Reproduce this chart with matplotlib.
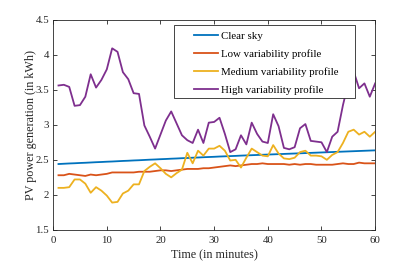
import matplotlib
matplotlib.use("Agg")
import matplotlib.pyplot as plt
from matplotlib.patches import Rectangle

minutes = list(range(1, 61))

clear_sky = [2.440, 2.444, 2.448, 2.451, 2.455, 2.458, 2.462, 2.466, 2.469, 2.473,
             2.476, 2.480, 2.484, 2.487, 2.491, 2.494, 2.498, 2.502, 2.505, 2.509,
             2.512, 2.516, 2.519, 2.523, 2.526, 2.530, 2.533, 2.537, 2.540, 2.543,
             2.547, 2.550, 2.553, 2.556, 2.560, 2.563, 2.566, 2.569, 2.572, 2.575,
             2.578, 2.581, 2.584, 2.587, 2.590, 2.593, 2.596, 2.599, 2.602, 2.605,
             2.608, 2.611, 2.614, 2.617, 2.620, 2.623, 2.626, 2.629, 2.632, 2.635]

low_var = [2.28, 2.28, 2.30, 2.29, 2.28, 2.27, 2.29, 2.28, 2.29, 2.30,
           2.32, 2.32, 2.32, 2.32, 2.32, 2.33, 2.33, 2.33, 2.34, 2.35,
           2.35, 2.34, 2.35, 2.36, 2.37, 2.37, 2.37, 2.38, 2.38, 2.39,
           2.40, 2.41, 2.42, 2.41, 2.42, 2.43, 2.44, 2.44, 2.45, 2.44,
           2.44, 2.44, 2.44, 2.43, 2.44, 2.43, 2.44, 2.44, 2.43, 2.43,
           2.43, 2.43, 2.44, 2.45, 2.44, 2.44, 2.46, 2.45, 2.45, 2.45]

medium_var = [2.10, 2.10, 2.11, 2.22, 2.22, 2.16, 2.03, 2.11, 2.06, 1.99,
              1.89, 1.90, 2.02, 2.06, 2.15, 2.15, 2.34, 2.40, 2.45, 2.38,
              2.30, 2.25, 2.31, 2.36, 2.60, 2.45, 2.63, 2.56, 2.66, 2.66,
              2.70, 2.63, 2.49, 2.50, 2.39, 2.53, 2.66, 2.61, 2.56, 2.55,
              2.71, 2.59, 2.52, 2.51, 2.53, 2.61, 2.63, 2.56, 2.56, 2.55,
              2.50, 2.57, 2.61, 2.74, 2.90, 2.93, 2.86, 2.90, 2.83, 2.90]

high_var = [3.56, 3.57, 3.54, 3.27, 3.28, 3.40, 3.72, 3.53, 3.64, 3.79,
            4.09, 4.04, 3.75, 3.65, 3.45, 3.44, 2.99, 2.83, 2.66, 2.86,
            3.06, 3.19, 3.02, 2.85, 2.78, 2.74, 2.93, 2.74, 3.03, 3.04,
            3.10, 2.87, 2.61, 2.65, 2.85, 2.72, 3.03, 2.87, 2.76, 2.74,
            3.15, 2.98, 2.67, 2.65, 2.68, 2.95, 3.01, 2.77, 2.76, 2.75,
            2.61, 2.83, 2.90, 3.28, 3.60, 3.76, 3.52, 3.59, 3.40, 3.59]

series_labels = ["Clear sky", "Low variability profile",
                 "Medium variability profile", "High variability profile"]
colors = ["#0072BD", "#D95319", "#EDB120", "#7E2F8E"]

x_ticks = [0, 10, 20, 30, 40, 50, 60]
y_ticks = [1.5, 2, 2.5, 3, 3.5, 4, 4.5]
y_tick_labels = ["1.5", "2", "2.5", "3", "3.5", "4", "4.5"]

plt.rcParams['font.family'] = ['Liberation Serif', 'DejaVu Serif']

fig = plt.figure(figsize=(4.15, 2.61), dpi=100)
ax = fig.add_axes([0.128, 0.119, 0.776, 0.806])

for vals, lab, col in zip([clear_sky, low_var, medium_var, high_var], series_labels, colors):
    ax.plot(minutes, vals, color=col, lw=1.3, label=lab, zorder=2)

ax.set_xlim(0, 60)
ax.set_ylim(1.5, 4.5)
ax.set_xticks(x_ticks)
ax.set_yticks(y_ticks)
ax.set_yticklabels(y_tick_labels)
ax.tick_params(direction='in', top=True, right=True, length=3, width=0.6,
               labelsize=7.8, colors='#262626')
ax.tick_params(axis='x', pad=4.5)
ax.tick_params(axis='y', pad=3)
for sp in ax.spines.values():
    sp.set_linewidth(0.6)
    sp.set_color('#262626')

ax.set_xlabel("Time (in minutes)", fontsize=8.7, color='#262626', labelpad=3)
ax.set_ylabel("PV power generation (in kWh)", fontsize=8.7, color='#262626', labelpad=-1)

# legend box (MATLAB-style wide padding)
frame = Rectangle((0.375, 0.629), 0.563, 0.347, transform=ax.transAxes,
                  facecolor='white', edgecolor='#262626', lw=0.6, zorder=4)
ax.add_patch(frame)
leg = ax.legend(loc='upper left', bbox_to_anchor=(0.437, 0.944), fontsize=7.8,
                frameon=False, handlelength=2.2, handletextpad=0.3, borderpad=0,
                labelspacing=0.76, borderaxespad=0)
leg.set_zorder(5)

fig.savefig("out.png", dpi=100)
